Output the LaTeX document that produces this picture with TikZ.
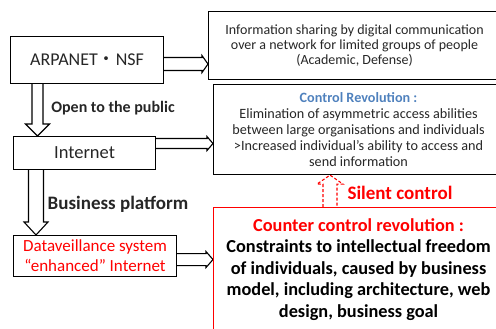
\documentclass[tikz,border=0pt]{standalone}
\usepackage{fontspec}
\setmainfont{Carlito}
\newfontfamily\cjk{Noto Sans CJK JP}
\usetikzlibrary{calc}
\definecolor{ctrlblue}{HTML}{4F81BD}
\definecolor{myred}{HTML}{FF0000}
\definecolor{txtgray}{HTML}{262626}
\pgfdeclarelayer{bg}
\pgfsetlayers{bg,main}
\tikzset{
  box/.style={draw, line width=1.1pt, inner sep=0pt, align=center, text=txtgray},
  hollow/.style={draw, fill=white, line width=1.1pt, line join=miter},
  lbl/.style={font=\bfseries\fontsize{16}{18}\selectfont, text=txtgray, inner sep=0pt},
}
% #1 start, #2 tip, #3 shaft half width, #4 head half width, #5 head length
\newcommand\hollowH[5]{\draw[hollow] ($(#1)+(0,#3)$) -- ($(#2)+(-#5,#3)$) -- ($(#2)+(-#5,#4)$) -- (#2) -- ($(#2)+(-#5,-#4)$) -- ($(#2)+(-#5,-#3)$) -- ($(#1)+(0,-#3)$);}
\newcommand\hollowV[6]{\draw[hollow,#6] ($(#1)+(-#3,0)$) -- ($(#2)+(-#3,#5)$) -- ($(#2)+(-#4,#5)$) -- (#2) -- ($(#2)+(#4,#5)$) -- ($(#2)+(#3,#5)$) -- ($(#1)+(#3,0)$);}
\begin{document}
\begin{tikzpicture}[x=1pt,y=1pt]
\useasboundingbox (0,0) rectangle (496,-329);
\clip (0,0) rectangle (496,-329);

\node[box, minimum width=153pt, minimum height=47pt, anchor=north west, font=\fontsize{18}{21}\selectfont] (arp) at (10,-36) {ARPANET{\cjk ・}NSF};
\node[box, minimum width=142pt, minimum height=33pt, anchor=north west, font=\fontsize{18.5}{21}\selectfont] (inet) at (13,-136) {Internet};
\node[box, minimum width=163pt, minimum height=41pt, anchor=north west, text=myred, font=\fontsize{17}{20}\selectfont] (data) at (13,-235) {Dataveillance system\\“enhanced” Internet};

\node[box, minimum width=292pt, minimum height=68pt, anchor=north west, font=\fontsize{14}{15}\selectfont] (b1) at (208,-11)
  {Information sharing by digital communication\\over a network for limited groups of people\\(Academic, Defense)};
\node[box, minimum width=290pt, minimum height=90pt, anchor=north west, font=\fontsize{14.2}{16}\selectfont] (b2) at (213,-84)
  {\textcolor{ctrlblue}{\bfseries Control Revolution :}\\Elimination of asymmetric access abilities\\between large organisations and individuals\\>Increased individual’s ability to access and\\send information};
\node[box, draw=myred, minimum width=290pt, minimum height=124pt, anchor=north west, text=black, font=\bfseries\fontsize{18.3}{21.5}\selectfont] (red) at (213,-207)
  {\textcolor{myred}{Counter control revolution :}\\Constraints to intellectual freedom\\of individuals, caused by business\\model, including architecture, web\\design, business goal};

\node[lbl] (open) at (113,-108) {Open to the public};
\node[lbl, font=\bfseries\fontsize{19}{21}\selectfont] (biz) at (118,-204) {Business platform};
\node[lbl, text=myred, font=\bfseries\fontsize{19}{21}\selectfont] (silent) at (400,-193) {Silent control};

\coordinate (a1s) at ($(arp.east)+(0,-4)$);
\coordinate (a1e) at (a1s -| b1.west);
\coordinate (a2s) at ($(inet.east)+(0,9.5)$);
\coordinate (a2e) at (a2s -| b2.west);
\coordinate (a3s) at ($(data.east)+(0,-3.5)$);
\coordinate (a3e) at (a3s -| red.west);
\coordinate (v1s) at ($(arp.south west)+(27.5,0)$);
\coordinate (v1e) at (v1s |- inet.north);
\coordinate (v2s) at ($(inet.south west)+(23,0)$);
\coordinate (v2e) at (v2s |- data.north);
\coordinate (v3s) at ($(red.north west)+(117,0)$);
\coordinate (v3e) at (v3s |- b2.south);

\begin{pgfonlayer}{bg}
\hollowH{a1s}{a1e}{6.5pt}{8.5pt}{6pt}
\hollowH{a2s}{a2e}{5pt}{7pt}{6pt}
\hollowH{a3s}{a3e}{6pt}{8pt}{7pt}
\hollowV{v1s}{v1e}{5.5pt}{12pt}{12pt}{}
\hollowV{v2s}{v2e}{7.5pt}{12pt}{13pt}{}
\hollowV{v3s}{v3e}{7pt}{13pt}{-9pt}{draw=myred, dashed, dash pattern=on 3pt off 2pt}
\end{pgfonlayer}
\end{tikzpicture}
\end{document}
